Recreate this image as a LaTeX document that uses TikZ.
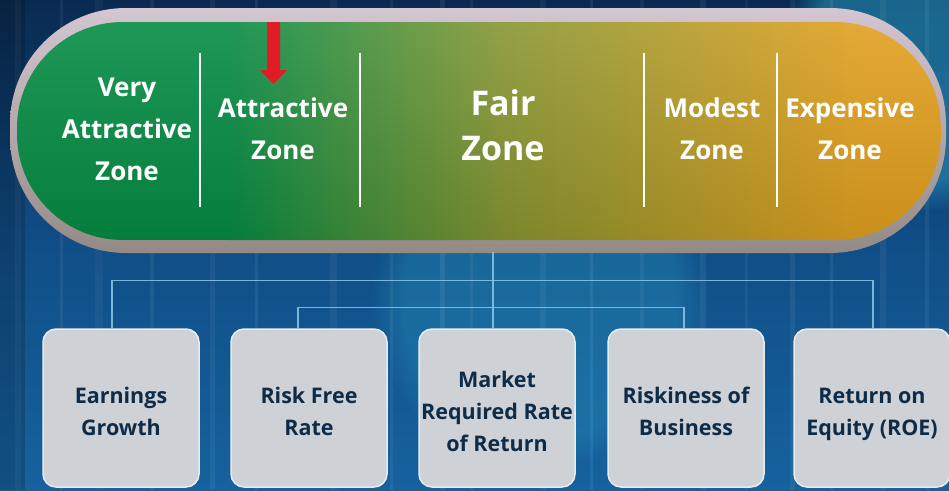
\documentclass[tikz,border=0pt]{standalone}
\usepackage{fontspec}
\setmainfont{Open Sans}
\usetikzlibrary{calc,fadings}
\definecolor{bgtop}{RGB}{9,42,80}
\definecolor{bgmid}{RGB}{16,78,135}
\definecolor{bgbot}{RGB}{22,98,158}
\definecolor{glowc}{RGB}{40,150,190}
\definecolor{pgreen}{RGB}{6,140,68}
\definecolor{polive}{RGB}{135,150,50}
\definecolor{porange}{RGB}{226,160,30}
\definecolor{rimc}{RGB}{212,198,210}
\definecolor{rimshadow}{RGB}{148,138,132}
\definecolor{linkc}{RGB}{140,200,232}
\definecolor{boxc}{RGB}{206,209,214}
\definecolor{boxedge}{RGB}{230,237,242}
\definecolor{boxtext}{RGB}{14,44,72}
\definecolor{arrowred}{RGB}{226,28,36}
\newcommand\factorlines[1]{\raisebox{-5pt}[\height][\depth]{\renewcommand\arraystretch{1}\begin{tabular}{@{}c@{}}#1\end{tabular}}}
\tikzset{
 zonetext/.style={text=white, font=\bfseries\fontsize{26}{42}\selectfont, align=center, inner sep=0pt},
 fairtext/.style={text=white, font=\bfseries\fontsize{34}{45}\selectfont, align=center, inner sep=0pt},
 factor/.style={draw=boxedge, line width=1.5pt, fill=boxc, rounded corners=13pt,
   minimum width=156pt, minimum height=158pt, text=boxtext,
   font=\bfseries\fontsize{21.5}{32}\selectfont, inner sep=0pt},
 divider/.style={white, line width=1.3pt},
 link/.style={linkc, line width=1.4pt, opacity=0.85},
}
\begin{document}
\begin{tikzpicture}[x=1pt,y=-1pt]
\useasboundingbox (0,0) rectangle (949,490);
% background
\shade[top color=bgtop, bottom color=bgbot, middle color=bgmid] (0,0) rectangle (949,490);
\fill[glowc, opacity=0.55, path fading=circle with fuzzy edge 20 percent] (930,60) circle (150);
\fill[glowc, opacity=0.35, path fading=circle with fuzzy edge 20 percent] (540,300) circle (170);
\foreach \x/\w/\o in {15/6/0.05, 60/3/0.06, 95/8/0.04, 150/4/0.06, 210/5/0.05, 255/3/0.07,
  330/7/0.05, 390/3/0.06, 440/5/0.07, 470/3/0.06, 540/6/0.05, 590/3/0.07, 640/4/0.05,
  700/6/0.06, 745/3/0.05, 790/5/0.06, 830/3/0.07, 880/6/0.05, 925/4/0.06}
  \fill[white, opacity=\o] (\x,0) rectangle ++(\w,490);
\fill[black, opacity=0.18] (0,0) rectangle (25,490);
% pill rim
\shade[top color=rimc, middle color=rimc, bottom color=rimshadow, rounded corners=116pt] (10,8) rectangle (946,253);
% pill body
\begin{scope}
\clip[rounded corners=106pt] (17,22) rectangle (941,240);
\fill[pgreen] (17,22) rectangle (231,240);
\shade[left color=pgreen, right color=polive] (230,22) rectangle (501,240);
\shade[left color=polive, right color=porange] (500,22) rectangle (861,240);
\fill[porange] (860,22) rectangle (941,240);
\shade[top color=white, bottom color=black, opacity=0.10] (17,22) rectangle (941,240);
\end{scope}
\coordinate (pillbot) at (493,252);
% dividers
\foreach \x in {200,360,644,777} \draw[divider] (\x,53) -- (\x,207);
% red arrow
\fill[arrowred] (267,22) -- (280,22) -- (280,70) -- (287,70) -- (273.5,84) -- (260,70) -- (267,70) -- cycle;
% zone labels
\node[zonetext] (z1) at (127,129) {Very\\Attractive\\Zone};
\node[zonetext] (z2) at (283,129) {Attractive\\Zone};
\node[fairtext] (z3) at (503,125) {Fair\\Zone};
\node[zonetext] (z4) at (712,129) {Modest\\Zone};
\node[zonetext] (z5) at (850,129) {Expensive\\Zone};
% factor boxes
\node[factor] (b1) at (121,408) {\factorlines{Earnings\\Growth}};
\node[factor] (b2) at (309,408) {\factorlines{Risk Free\\Rate}};
\node[factor] (b3) at (497,408) {\factorlines{Market\\Required Rate\\of Return}};
\node[factor] (b4) at (686,408) {\factorlines{Riskiness of\\Business}};
\node[factor] (b5) at (872,408) {\factorlines{Return on\\Equity (ROE)}};
% connectors
\draw[link] (pillbot) -- (pillbot |- b3.north);
\draw[link] ([xshift=-9pt]b1.north) -- ++(0,-48) -| ([xshift=1pt]b5.north);
\draw[link] ([xshift=-11pt]b2.north) -- ++(0,-21) -| ([xshift=-2pt]b4.north);
\end{tikzpicture}
\end{document}
